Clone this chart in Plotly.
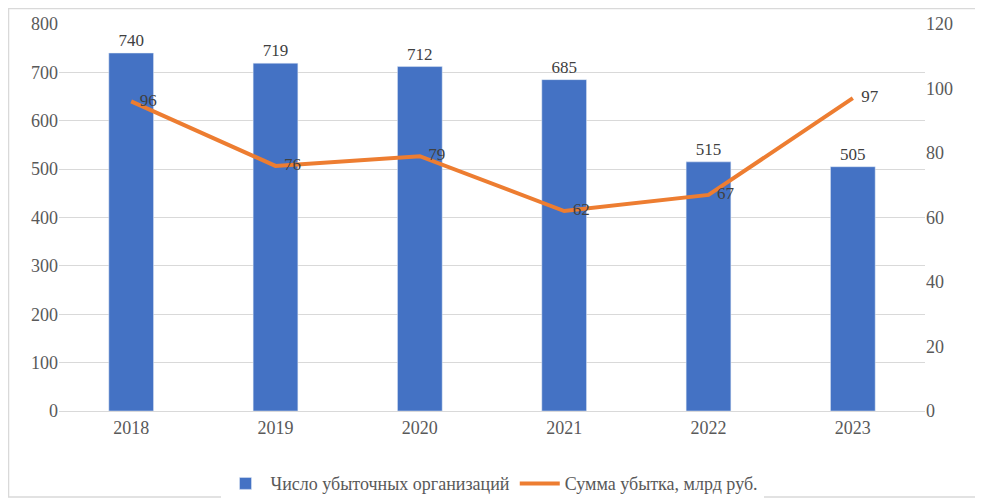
import plotly.graph_objects as go

years = ["2018", "2019", "2020", "2021", "2022", "2023"]
org_count = [740, 719, 712, 685, 515, 505]
loss_sum = [96, 76, 79, 62, 67, 97]

serif = "Times New Roman, Liberation Serif, serif"
fnt = dict(family=serif, size=18, color="#595959")
lbl = dict(family=serif, size=17, color="#404040")

fig = go.Figure()

fig.add_trace(go.Bar(x=years, y=org_count, name="Число убыточных организаций",
                     marker_color="#4472C4", text=org_count, textposition="outside",
                     textfont=lbl, cliponaxis=False))

fig.add_trace(go.Scatter(x=years, y=loss_sum, name="Сумма убытка, млрд руб.",
                         mode="lines+text", line=dict(color="#ED7D31", width=4),
                         text=["  " + str(v) for v in loss_sum], textposition="middle right",
                         textfont=lbl, yaxis="y2", cliponaxis=False))

# page body has an 8px margin, so the figure is a bit smaller than the window
fig.update_layout(
    width=975, height=493,
    margin=dict(l=51, r=58, t=16, b=90, autoexpand=False),
    paper_bgcolor="white", plot_bgcolor="white",
    font=fnt,
    bargap=0.69,
    showlegend=True,
    legend=dict(orientation="h", x=0.5, xanchor="center", y=-0.14, yanchor="top",
                itemwidth=40, font=fnt),
    xaxis=dict(showgrid=False, showline=True, linecolor="#d9d9d9", ticks="",
               tickfont=fnt),
    yaxis=dict(range=[0, 800], dtick=100, showgrid=True, gridcolor="#d9d9d9",
               zeroline=False, ticks="", tickfont=fnt),
    yaxis2=dict(range=[0, 120], dtick=20, overlaying="y", side="right",
                showgrid=False, zeroline=False, ticks="", tickfont=fnt),
    shapes=[dict(type="rect", xref="paper", yref="paper", x0=-0.0583, x1=1.0647,
                 y0=-0.222, y1=1.040, line=dict(color="#d9d9d9", width=1.5))],
)

fig.write_html("out.html")
